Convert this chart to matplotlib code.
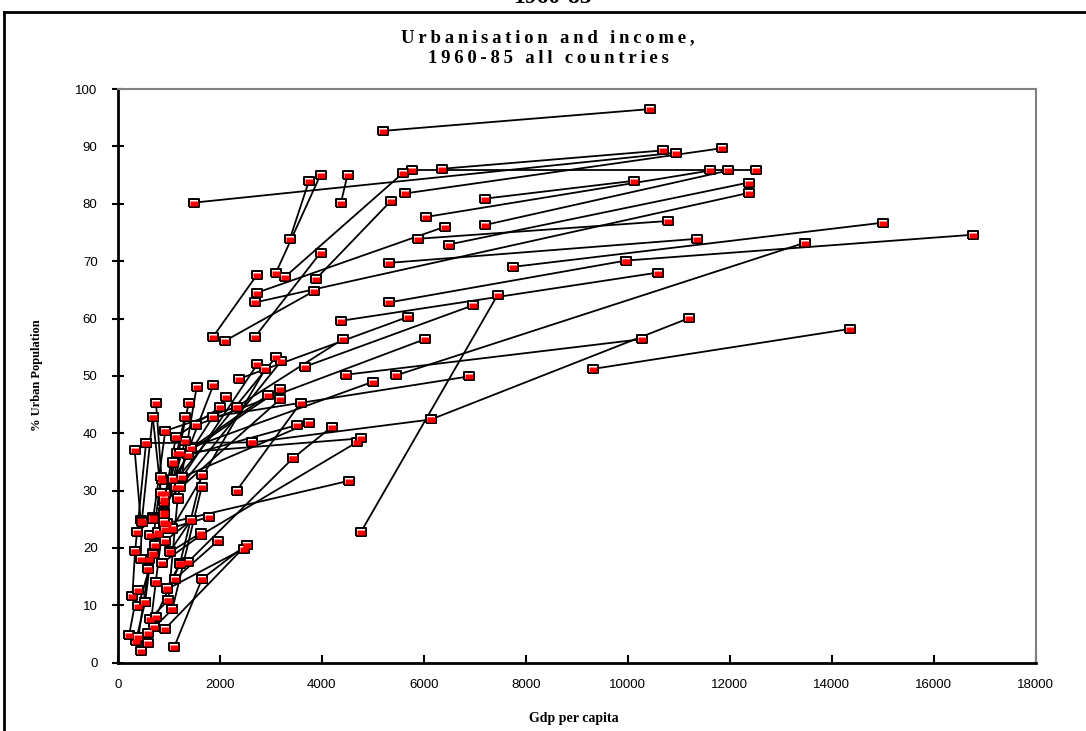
import matplotlib
matplotlib.use('Agg')
import matplotlib.pyplot as plt
from matplotlib.lines import Line2D

# one entry per country: 1960 point -> 1985 point
gdp_1960 = [5194, 1495, 6356, 5631, 4377, 3377, 3103, 3887, 5775, 1868,
            3285, 7199, 6043, 7199, 6493, 2691, 5892, 5318, 2730, 2691,
            2103, 5318, 9963, 7748, 4763, 5460, 9310, 6141, 4469, 4377,
            3671, 2332, 1535, 2384, 1156, 1874, 1143, 1058, 933, 1221,
            1090, 1090, 1437, 915, 2332, 1143, 1176, 915, 927, 862,
            849, 915, 797, 1384, 1254, 3430, 1639, 1221, 960, 1384,
            2626, 555, 451, 1652, 1123, 927, 960, 1221, 1071, 1058,
            1025, 699, 745, 1110, 457, 353, 222, 405, 601, 719,
            634, 745, 405, 287, 875, 614, 451, 732, 634, 372,
            601, 536, 993, 340, 470, 927, 1025, 699, 915, 960]
urban_1960 = [92.7, 80.2, 86.1, 81.8, 80.2, 73.9, 68.0, 66.9, 85.8, 56.8,
              67.3, 80.9, 77.7, 76.3, 72.9, 62.8, 73.9, 69.7, 64.5, 56.8,
              56.1, 62.8, 70.1, 69.0, 22.7, 50.1, 51.2, 42.4, 50.2, 59.6,
              51.6, 44.6, 41.4, 49.5, 36.6, 42.9, 30.7, 23.3, 29.6, 30.6,
              32.1, 34.9, 37.4, 28.0, 30.0, 39.4, 28.5, 26.3, 40.4, 31.8,
              29.6, 24.3, 22.4, 36.2, 32.3, 35.6, 22.3, 36.6, 24.3, 17.6,
              38.4, 38.3, 24.8, 14.6, 14.6, 5.9, 12.8, 17.3, 9.3, 23.5,
              19.4, 19.1, 14.0, 2.8, 2.1, 3.7, 4.8, 4.5, 3.4, 6.2,
              7.7, 8.0, 9.9, 11.7, 17.4, 18.0, 18.0, 20.5, 22.3, 22.7,
              16.3, 10.5, 10.9, 19.4, 24.5, 21.2, 19.3, 25.4, 28.5, 13.0]
gdp_1985 = [10433, 10943, 10688, 11858, 4508, 3750, 3979, 5357, 12523, 2730,
            5598, 10119, 11623, 11976, 12373, 12373, 10792, 11368, 6415, 3979,
            3853, 9963, 16764, 14999, 7448, 13471, 14367, 11211, 10276, 10584,
            6964, 4416, 6023, 5696, 5010, 6880, 2736, 2893, 3103, 3207,
            2123, 3181, 2952, 3181, 3587, 2005, 1548, 1874, 2332, 751,
            686, 1392, 1319, 3508, 3750, 4194, 4684, 4763, 4528, 3430,
            6141, 2626, 333, 2528, 1972, 2528, 2476, 1646, 1646, 1784,
            1431, 1325, 915, 1652, 601, 536, 392, 601, 745, 1071,
            993, 1221, 699, 340, 1639, 797, 470, 1090, 927, 699,
            915, 849, 1176, 555, 686, 1437, 1627, 933, 1143, 1221]
urban_1985 = [96.5, 88.9, 89.3, 89.7, 85.1, 84.0, 85.1, 80.5, 85.8, 67.6,
              85.4, 84.0, 85.8, 85.8, 83.7, 81.9, 77.0, 73.9, 76.0, 71.5,
              64.8, 70.1, 74.6, 76.7, 64.1, 73.2, 58.2, 60.1, 56.4, 68.0,
              62.3, 56.4, 56.4, 60.3, 49.0, 49.9, 52.0, 51.2, 53.3, 52.6,
              46.4, 47.7, 46.7, 45.9, 45.3, 44.5, 48.1, 48.4, 44.6, 45.3,
              42.9, 45.3, 42.9, 41.4, 41.8, 41.1, 38.4, 39.1, 31.7, 35.6,
              42.4, 38.4, 37.0, 20.6, 21.3, 20.6, 19.9, 32.7, 30.6, 25.4,
              24.8, 38.7, 26.0, 14.6, 5.1, 10.5, 12.7, 16.3, 14.0, 9.3,
              10.9, 17.3, 18.9, 19.4, 22.3, 22.7, 24.5, 35.0, 23.3, 25.1,
              24.5, 32.4, 28.7, 38.3, 42.9, 24.8, 22.6, 40.4, 39.4, 17.2]

x_ticks = list(range(0, 18001, 2000))
y_ticks = list(range(0, 101, 10))

fig = plt.figure(figsize=(10.86, 7.31), dpi=100)
ax = fig.add_axes([0.1084, 0.0934, 0.8453, 0.7848])

# excel style marker: black frame, white fill, red block in the lower part
outer = [(-1.2, -0.9), (1.2, -0.9), (1.2, 0.9), (-1.2, 0.9), (-1.2, -0.9)]
inner = [(-0.85, -0.7), (0.95, -0.7), (0.95, 0.35), (-0.85, 0.35), (-0.85, -0.7)]
ms_out = 7.6
ms_in = ms_out * 0.95 / 1.2

for i in range(len(gdp_1960)):
    xs = [gdp_1960[i], gdp_1985[i]]
    ys = [urban_1960[i], urban_1985[i]]
    ax.plot(xs, ys, color='black', lw=1.3, zorder=2, solid_capstyle='butt')

all_x = gdp_1960 + gdp_1985
all_y = urban_1960 + urban_1985
ax.plot(all_x, all_y, ls='none', marker=outer, ms=ms_out, mfc='white',
        mec='black', mew=1.4, zorder=3)
ax.plot(all_x, all_y, ls='none', marker=inner, ms=ms_in, mfc='#ff0000',
        mec='none', zorder=4)

ax.set_xlim(0, 18000)
ax.set_ylim(0, 100)
ax.set_xticks(x_ticks)
ax.set_yticks(y_ticks)
ax.set_xticklabels([str(v) for v in x_ticks], fontfamily='Liberation Sans', fontsize=9.5)
ax.set_yticklabels([str(v) for v in y_ticks], fontfamily='Liberation Sans', fontsize=9.5)
ax.tick_params(axis='x', direction='in', length=6, width=1.5, pad=12)
ax.tick_params(axis='y', direction='inout', length=9, width=1.5, pad=10)

for s in ['left', 'bottom']:
    ax.spines[s].set_linewidth(2)
    ax.spines[s].set_color('black')
for s in ['top', 'right']:
    ax.spines[s].set_linewidth(1.5)
    ax.spines[s].set_color('#808080')

def spaced(s):
    return '\u2009'.join(s)

fig.text(0.5046, 0.949, spaced('Urbanisation and income,'), ha='center', va='center',
         fontfamily='Liberation Serif', fontweight='bold', fontsize=13.5)
fig.text(0.5046, 0.920, spaced('1960-85 all countries'), ha='center', va='center',
         fontfamily='Liberation Serif', fontweight='bold', fontsize=13.5)
# heading of the page above the chart, cut by the top edge as in the source
fig.text(0.509, 1.003, '1960-85', ha='center', va='center',
         fontfamily='Liberation Serif', fontweight='bold', fontsize=17)

fig.text(0.034, 0.487, '% Urban Population', rotation=90, ha='center', va='center',
         fontfamily='Liberation Serif', fontweight='bold', fontsize=9)
fig.text(0.528, 0.017, 'Gdp per capita', ha='center', va='center',
         fontfamily='Liberation Serif', fontweight='bold', fontsize=10)

# chart area frame (top and left edges visible)
fig.add_artist(Line2D([0.0037, 1.0], [0.9836, 0.9836], color='black', lw=2))
fig.add_artist(Line2D([0.0037, 0.0037], [0.0, 0.9836], color='black', lw=2))

fig.savefig('out.png', dpi=100)
